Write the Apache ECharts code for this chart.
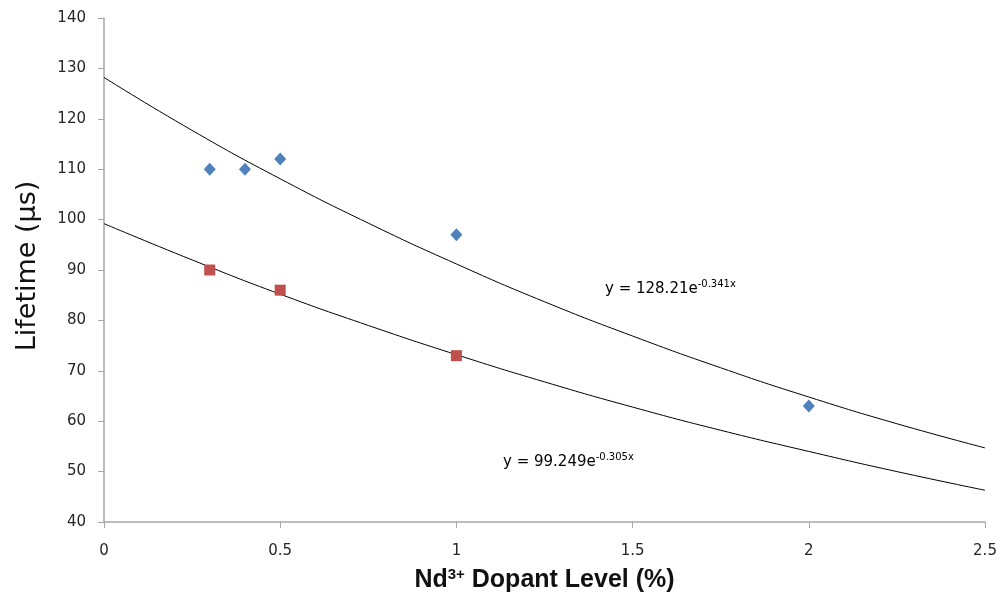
<!DOCTYPE html>
<html>
<head>
<meta charset="utf-8">
<script src="https://cdn.jsdelivr.net/npm/echarts@6/dist/echarts.min.js"></script>
<style>
  html, body { margin: 0; padding: 0; background: #fff; }
  #chart { width: 1000px; height: 598px; }
</style>
</head>
<body>
<div id="chart"></div>
<script>
  // measured points
  var blueX = [0.3, 0.4, 0.5, 1, 2];
  var blueY = [110, 110, 112, 97, 63];
  var redX = [0.3, 0.5, 1];
  var redY = [90, 86, 73];

  // trendline samples
  var fitX = [0, 0.25, 0.5, 0.75, 1, 1.25, 1.5, 1.75, 2, 2.25, 2.5];
  var fitTop = [128.2, 117.7, 108.1, 99.3, 91.2, 83.7, 76.9, 70.6, 64.8, 59.5, 54.7];
  var fitBottom = [99.2, 92.0, 85.2, 79.0, 73.2, 67.8, 62.8, 58.2, 54.0, 50.0, 46.3];

  var xTicks = ['0', '0.5', '1', '1.5', '2', '2.5'];

  function pairs(xs, ys) {
    return xs.map(function (x, i) { return [x, ys[i]]; });
  }

  var chart = echarts.init(document.getElementById('chart'));
  var tickFont = { fontFamily: 'DejaVu Sans', fontSize: 15, color: '#262626' };
  var eqRich = {
    b: { fontFamily: 'DejaVu Sans', fontSize: 15, color: '#1a1a1a' },
    s: { fontFamily: 'DejaVu Sans', fontSize: 10, color: '#1a1a1a', verticalAlign: 'top', padding: [0, 0, 10, 0] }
  };

  chart.setOption({
    animation: false,
    grid: { left: 104, right: 15, top: 18, bottom: 67 },
    xAxis: {
      type: 'value',
      min: 0, max: 2.5, interval: 0.5,
      name: '{t|Nd}{s|3+}{t| Dopant Level (%)}',
      nameLocation: 'middle',
      nameGap: 45,
      nameTextStyle: {
        rich: {
          t: { fontFamily: 'Liberation Sans', fontWeight: 'bold', fontSize: 25, color: '#111' },
          s: { fontFamily: 'Liberation Sans', fontWeight: 'bold', fontSize: 15, color: '#111', verticalAlign: 'top', padding: [0, 0, 12, 0] }
        }
      },
      axisLine: { lineStyle: { color: '#a6a6a6', width: 1.5 } },
      axisTick: { show: true, length: 6, lineStyle: { color: '#a6a6a6' } },
      axisLabel: Object.assign({ margin: 22, formatter: function (v) { return xTicks[Math.round(v / 0.5)]; } }, tickFont),
      splitLine: { show: false }
    },
    yAxis: {
      type: 'value',
      min: 40, max: 140, interval: 10,
      axisLine: { show: true, lineStyle: { color: '#a6a6a6', width: 1.5 } },
      axisTick: { show: true, length: 6, lineStyle: { color: '#a6a6a6' } },
      axisLabel: Object.assign({ margin: 18 }, tickFont),
      splitLine: { show: false }
    },
    series: [
      {
        type: 'line', data: pairs(fitX, fitTop), smooth: true, showSymbol: false,
        lineStyle: { color: '#000', width: 1 }, z: 2
      },
      {
        type: 'line', data: pairs(fitX, fitBottom), smooth: true, showSymbol: false,
        lineStyle: { color: '#000', width: 1 }, z: 2
      },
      {
        type: 'scatter', data: pairs(blueX, blueY), symbol: 'diamond', symbolSize: [12, 13],
        itemStyle: { color: '#4f81bd', opacity: 1 }, z: 3
      },
      {
        type: 'scatter', data: pairs(redX, redY), symbol: 'rect', symbolSize: 11,
        itemStyle: { color: '#c0504d', opacity: 1 }, z: 3
      }
    ],
    graphic: [
      {
        type: 'text', x: 28, y: 266, rotation: Math.PI / 2,
        style: {
          text: 'Lifetime (\u00b5s)', fontFamily: 'DejaVu Sans', fontSize: 27, fill: '#111',
          align: 'center', verticalAlign: 'middle'
        }
      },
      {
        type: 'text', left: 605, top: 279,
        style: { text: '{b|y = 128.21e}{s|-0.341x}', rich: eqRich }
      },
      {
        type: 'text', left: 503, top: 452,
        style: { text: '{b|y = 99.249e}{s|-0.305x}', rich: eqRich }
      }
    ]
  });
</script>
</body>
</html>
